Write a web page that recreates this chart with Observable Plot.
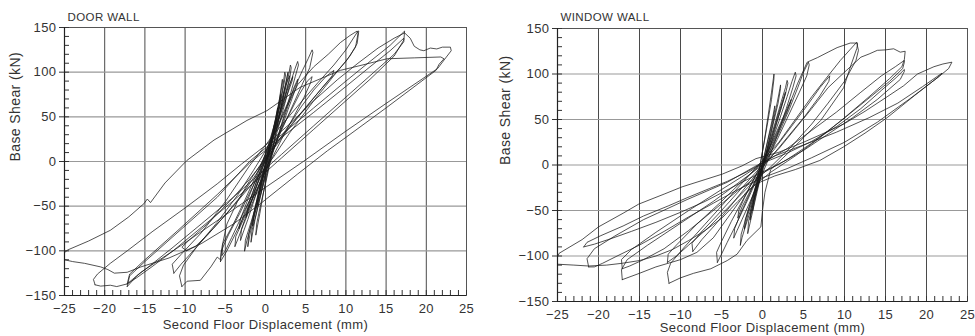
<!DOCTYPE html>
<html><head><meta charset="utf-8">
<script src="https://cdn.jsdelivr.net/npm/d3@7"></script>
<script src="https://cdn.jsdelivr.net/npm/@observablehq/plot@0.6"></script>
<style>
body{margin:0;background:#fff;}
#wrap{display:flex;width:975px;height:336px;overflow:hidden;}
#wrap svg{display:block;flex:none;}
#wrap svg text{letter-spacing:0.4px;}
</style>
</head><body><div id="wrap"></div>
<script>
// ---- axis ticks and labels ----
const xMajor = [-25, -20, -15, -10, -5, 0, 5, 10, 15, 20, 25];
const yMajor = [-150, -100, -50, 0, 50, 100, 150];
const xMinor = d3.range(-25, 26, 1);
const yMinor = d3.range(-150, 151, 10);
const xLabel = "Second Floor Displacement (mm)";
const yLabel = "Base Shear (kN)";
const doorTitle = "DOOR WALL";
const windowTitle = "WINDOW WALL";

// ---- DOOR WALL hysteresis loops [displacement mm, base shear kN] ----
const door_C25 = [[-25,-110],[-25,-102],[-24.6,-99],[-22,-89],[-19.3,-77],[-17,-62],[-15.1,-47],[-14.7,-42],[-14.3,-46],[-12.5,-24],[-9.8,1],[-6.4,24],[-2.3,46],[0.2,57],[4.3,83],[9.3,102],[12.5,109],[15.1,115],[18.5,116],[21.8,117],[22.2,115],
  [21.6,109],[21.2,102],[15,60],[10,27],[7.7,12],[4,-14],[-0.6,-47],[-4,-70],[-8,-92],[-12,-108],[-15.5,-118],[-17.2,-124],[-18.8,-125],[-19.6,-121],[-20.5,-118],[-22.5,-114],[-24,-112],[-25,-110]];
const door_C21 = [[-21.2,-138],[-21.4,-132],[-20.9,-126],[-19.3,-114],[-17.2,-100],[-14,-78],[-10,-52],[-6,-25],[-3,-3],[0,18],[3,42],[6,68],[9,92],[11.5,110],[14,127],[16,138],[17.3,144],[18,138],[18.5,129],[19.2,125],[19.7,124],[20.5,127],[21.3,126],[22,128],[23,128],[23.1,124],
  [22.5,117],[21.4,104],[15,65],[10,34],[4.7,0],[0,-29],[-5,-60],[-10,-91],[-13,-109],[-15.5,-124],[-17.2,-137],[-18.5,-140],[-19.3,-138.5],[-20.5,-139.5],[-21.2,-138]];
const door_C17a = [[-17.2,-140],[-16.9,-128],[-15,-112],[-11,-80],[-6,-40],[-2,0],[2,30],[6,60],[10,90],[13,112],[15.5,130],[17.3,146],
  [17.2,134],[16,120],[13,96],[10,72],[6,40],[2,8],[0,-8],[-4,-40],[-8,-70],[-11.5,-96],[-14,-114],[-16,-128],[-17.2,-140]];
const door_C17b = [[-17.2,-137],[-16.9,-126],[-15,-110],[-11,-78],[-6,-37],[-2,-2],[2,27],[6,55],[10,84],[13,106],[15.5,124],[17.2,138],
  [17.2,136],[16,118],[13,92],[10,68],[6,36],[2,4],[0,-12],[-4,-44],[-8,-74],[-11.5,-100],[-14,-117],[-16,-130],[-17.2,-137]];
const door_C11a = [[-11.4,-125],[-11.6,-115],[-10.5,-104],[-8,-80],[-5,-45],[-2,-5],[1,30],[4,62],[6.5,88],[8.5,108],[10,125],[11.5,146],
  [11.6,146],[11.4,132],[10.5,118],[8.5,96],[6,68],[3,32],[1,5],[-1,-18],[-4,-50],[-6.5,-75],[-9,-100],[-10.5,-115],[-11.4,-125]];
const door_C11b = [[-10.4,-140],[-10.7,-128],[-10.2,-116],[-8.5,-95],[-6,-68],[-3.5,-38],[-1.5,-10],[0,12],[1.5,38],[2.7,62],[4,86],[6,106],[7.8,120],[9.3,133],[10.5,141],[11.4,146],
  [11.5,143],[11.2,128],[10,112],[7,82],[4,50],[2,28],[0,5],[-2,-22],[-3.5,-45],[-4.8,-70],[-5.4,-95],[-5.6,-110],[-6,-107],[-6.8,-118],[-8.1,-133],[-9.75,-134],[-10.4,-140]];
const door_C5a = [[-5.4,-105],[-5.3,-92],[-4,-70],[-2.5,-42],[-1,-12],[0.5,18],[2,50],[3.5,80],[4.6,102],[5.3,115],[5.8,125],
  [5.9,122],[5.5,105],[4.5,85],[3,55],[1.5,25],[0,-5],[-1.5,-35],[-3,-62],[-4.2,-85],[-5,-100],[-5.4,-105]];
const door_C5b = [[-5.6,-112],[-5.5,-100],[-4.6,-82],[-3.2,-58],[-1.8,-32],[-0.3,-5],[1.3,25],[2.9,52],[4.2,75],[5.2,90],[5.8,95],
  [5.6,88],[4.8,72],[3.5,50],[2,25],[0.5,-2],[-1,-30],[-2.5,-58],[-3.8,-82],[-4.8,-100],[-5.6,-112]];
const door_C8 = [[-9.8,-100],[-10.4,-96],[-9.5,-88],[-7,-68],[-4.5,-45],[-2,-20],[0.5,8],[2.5,35],[4.5,62],[6,80],[7.5,95],[8.5,102],
  [8.3,96],[7,82],[5,60],[3,38],[1,14],[-1,-12],[-3,-38],[-5,-60],[-7,-80],[-8.7,-95],[-9.8,-100]];
const door_S1 = [[-3.1,-88],[-3.0,-76],[-2.3,-58],[-1.3,-32],[-0.3,-5],[0.7,22],[1.6,50],[2.4,78],[2.9,98],[3.1,108],
  [3.2,105],[3.0,92],[2.4,70],[1.6,45],[0.7,17],[-0.3,-12],[-1.3,-40],[-2.2,-65],[-2.8,-80],[-3.1,-88]];
const door_S2 = [[-2.2,-95],[-2.1,-82],[-1.5,-60],[-0.7,-32],[-0.1,-10],[0.7,20],[1.5,52],[2.1,80],[2.4,100],
  [2.5,97],[2.2,82],[1.7,58],[1,30],[0.2,0],[-0.6,-30],[-1.3,-58],[-1.9,-80],[-2.2,-95]];
const door_S3 = [[-1.6,-72],[-1.5,-60],[-1,-40],[-0.3,-15],[0.4,12],[1.1,40],[1.6,62],[1.9,80],[2.1,92],
  [2.1,88],[1.8,72],[1.3,50],[0.6,22],[-0.1,-5],[-0.8,-32],[-1.3,-52],[-1.6,-72]];
const door_S4 = [[-2.6,-100],[-2.5,-88],[-1.8,-68],[-0.8,-38],[0.2,-8],[1.2,25],[2.2,58],[3,85],[3.6,102],[4,112],
  [4.1,108],[3.7,95],[3,72],[2,42],[1,12],[0,-18],[-1,-48],[-1.8,-72],[-2.3,-88],[-2.6,-100]];
const door_S5 = [[-1,-48],[-0.9,-38],[-0.5,-20],[0.1,2],[0.7,25],[1.2,45],[1.5,60],
  [1.5,56],[1.2,40],[0.6,18],[0,-5],[-0.5,-25],[-0.8,-38],[-1,-48]];
const door_S6 = [[-3.8,-95],[-3.7,-84],[-2.8,-66],[-1.6,-42],[-0.4,-18],[0.8,8],[1.8,35],[2.8,62],[3.5,82],[4,92],
  [4,88],[3.6,78],[2.8,58],[1.8,32],[0.6,4],[-0.6,-24],[-1.8,-50],[-2.8,-72],[-3.4,-86],[-3.8,-95]];
const door_S7 = [[-1.8,-90],[-1.7,-78],[-1.2,-60],[-0.6,-38],[0,-15],[0.6,10],[1.2,38],[1.6,60],[1.9,75],
  [1.9,72],[1.5,55],[1,32],[0.4,5],[-0.2,-20],[-0.8,-45],[-1.3,-65],[-1.8,-90]];
const door_S8 = [[-3.3,-75],[-3.1,-64],[-2.3,-45],[-1.3,-22],[-0.3,2],[0.8,28],[1.8,55],[2.7,80],[3.4,95],
  [3.3,90],[2.6,72],[1.6,46],[0.5,18],[-0.6,-10],[-1.6,-35],[-2.5,-55],[-3.3,-75]];
const door_S9 = [[-1.2,-82],[-1.1,-70],[-0.6,-48],[0,-25],[0.6,0],[1.2,28],[1.8,55],[2.3,78],[2.8,100],
  [2.7,95],[2.2,72],[1.6,46],[1,20],[0.4,-5],[-0.2,-32],[-0.7,-58],[-1.2,-82]];
const door_S10 = [[-2.4,-62],[-2.2,-52],[-1.6,-35],[-0.8,-14],[0,8],[0.9,35],[1.8,62],[2.5,85],[3,96],
  [2.9,90],[2.3,70],[1.5,45],[0.6,18],[-0.3,-6],[-1.1,-28],[-1.8,-46],[-2.4,-62]];

// ---- WINDOW WALL hysteresis loops ----
const win_W25 = [[-25,-110],[-25,-101],[-24.8,-97],[-22,-82],[-20,-68],[-17,-53],[-15.1,-43],[-12,-32],[-9.8,-24],[-7,-16],[-4.9,-10],[-2.5,-1],[-0.8,7],[2,14],[5,25],[7.5,35],[9.9,45],[12.5,59],[15.2,75],[17.2,87],[18.9,100],[20.9,108],[22,111],[23.1,113],
  [22.7,106],[21.9,100],[18.5,76],[15.2,52],[12.5,35],[9.9,20],[7,5],[4,-5],[1.5,-12],[-0.85,-21],[-3,-40],[-4.9,-58],[-7,-72],[-9,-83],[-11,-93],[-13,-100],[-15,-105],[-17.1,-108],[-19,-110],[-21.2,-111],[-23,-110],[-25,-109],[-25,-110]];
const win_W21a = [[-21.2,-112],[-21.4,-103],[-20.5,-92],[-18,-78],[-14.5,-60],[-9.2,-38],[-4.3,-19],[-1,-2],[1.5,10],[5,22],[9,36],[13,52],[16.5,68],[19.5,86],[21.9,101],
  [21.5,97],[18,73],[14,47],[10,25],[6,8],[3,-4],[0,-14],[-3,-27],[-6,-42],[-9,-57],[-12,-73],[-15,-88],[-17.5,-99],[-19.5,-108],[-20.5,-112],[-21.2,-112]];
const win_W21b = [[-21.8,-90],[-21.4,-85],[-19.8,-78],[-17,-67],[-14.5,-56],[-11.5,-45],[-9.2,-36],[-6.5,-26],[-4.3,-18],[-2,-8],[0,2],[3,13],[6,26],[9,42],[12,62],[14.5,82],[16.3,96],[17.3,105],
  [17.3,103],[16.8,94],[14,72],[11,52],[8,34],[5,16],[2,1],[-1,-12],[-4,-26],[-7,-40],[-10,-52],[-13,-63],[-16,-73],[-18.5,-81],[-20.5,-87],[-21.8,-90]];
const win_W17a = [[-17.1,-126],[-17.2,-115],[-16.5,-104],[-14,-88],[-10,-64],[-6,-40],[-3,-20],[0,0],[2,18],[4,40],[6,62],[8,85],[10,102],[12,118.5],[13,122],[14,126],[15,126.5],[16,127.7],[16.8,124],[17.4,125],
  [17.3,116],[17,108],[15.5,95],[13,75],[10,52],[7,30],[4,10],[1,-8],[-2,-30],[-4,-55],[-6,-80],[-8,-96],[-10,-104],[-13,-112],[-15,-119],[-17.1,-126]];
const win_W17b = [[-17.1,-114],[-17.2,-104],[-16,-93],[-13,-74],[-9,-50],[-5,-27],[-2,-10],[0,2],[3,18],[6,38],[9,58],[12,80],[14.5,98],[16.2,108],[17.3,115],
  [17.3,113],[17.1,106],[15.5,92],[12.5,70],[9.5,48],[6,24],[3,6],[0,-9],[-3,-28],[-6,-50],[-9,-72],[-12,-92],[-14.5,-104],[-16.2,-111],[-17.1,-114]];
const win_W11a = [[-11.4,-130],[-11.6,-118],[-11.2,-108],[-9.5,-90],[-7,-65],[-4.5,-40],[-2,-15],[0,5],[2,25],[4,50],[6,75],[8,98],[9.5,115],[10.7,127],[11.5,135],
  [11.6,133],[11.5,128],[10.8,110],[9.9,85],[7.1,49],[5,30],[3,12],[1,-5],[0.3,-30],[0,-50],[-0.2,-68],[-1.9,-83],[-3.1,-98],[-4.3,-105],[-6.3,-114],[-8.4,-119],[-10,-124],[-11.4,-130]];
const win_W11b = [[-11.6,-107],[-11.5,-98],[-10.5,-88],[-8,-65],[-5,-40],[-2.5,-18],[0,2],[1.5,30],[3,60],[4.3,90],[5.45,113],[6.7,118],[8,124],[9.1,129],[10.7,134],[11.5,134],
  [11.7,126],[11.4,115],[10,92],[8,68],[6,45],[3.5,20],[1,-2],[-1.5,-22],[-4,-45],[-6.5,-68],[-9,-88],[-10.5,-100],[-11.6,-107]];
const win_W5 = [[-5.5,-107],[-5.6,-96],[-5,-84],[-3.8,-62],[-2.5,-40],[-1,-15],[0.5,8],[2,35],[3.3,62],[4.3,85],[5,102],[5.6,113],
  [5.7,110],[5.4,98],[4.5,80],[3.2,55],[1.8,28],[0.5,5],[-0.8,-18],[-2,-42],[-3.2,-65],[-4.3,-85],[-5,-98],[-5.5,-107]];
const win_W8 = [[-8.5,-95],[-8.6,-86],[-7.5,-74],[-5.5,-55],[-3,-30],[-0.5,-5],[1.5,18],[3.5,42],[5.5,66],[7,85],[8.2,98],
  [8.1,92],[7,76],[5.2,54],[3,30],[0.8,6],[-1.5,-18],[-3.8,-44],[-5.8,-66],[-7.4,-82],[-8.5,-95]];
const win_S1 = [[-2.7,-88],[-2.6,-76],[-2,-58],[-1.2,-35],[-0.3,-10],[0.6,18],[1.5,45],[2.3,70],[2.8,85],[3,93],
  [3.1,90],[2.8,78],[2.1,58],[1.3,32],[0.4,5],[-0.5,-22],[-1.4,-48],[-2.1,-68],[-2.5,-80],[-2.7,-88]];
const win_S2 = [[-1.8,-75],[-1.7,-62],[-1.2,-45],[-0.5,-20],[0.3,8],[1,35],[1.6,60],[2,78],[2.2,88],
  [2.2,84],[1.9,68],[1.3,45],[0.6,18],[-0.1,-8],[-0.8,-35],[-1.3,-55],[-1.8,-75]];
const win_S3 = [[-1.2,-50],[-1.1,-40],[-0.7,-24],[-0.1,-2],[0.5,22],[1,42],[1.3,55],[1.5,65],
  [1.5,61],[1.2,47],[0.7,28],[0.1,5],[-0.4,-15],[-0.8,-32],[-1.2,-50]];
const win_S4 = [[-3.5,-80],[-3.4,-70],[-2.6,-52],[-1.5,-30],[-0.3,-6],[0.9,20],[2,48],[3,75],[3.6,92],[4,102],
  [4.1,98],[3.7,85],[2.9,62],[1.9,35],[0.8,8],[-0.4,-18],[-1.5,-40],[-2.5,-60],[-3.1,-72],[-3.5,-80]];
const win_S5 = [[-1.5,-60],[-1.4,-48],[-1,-30],[-0.4,-5],[0.2,25],[0.7,55],[1.1,80],[1.4,100],
  [1.4,95],[1.1,72],[0.6,45],[0,15],[-0.5,-12],[-1,-35],[-1.5,-60]];
const win_S6 = [[-2.2,-70],[-2.1,-60],[-1.5,-42],[-0.7,-20],[0.2,5],[1.1,30],[1.9,55],[2.5,72],[2.8,80],
  [2.7,76],[2.2,60],[1.4,38],[0.5,12],[-0.4,-14],[-1.2,-38],[-1.8,-55],[-2.2,-70]];
const win_S7 = [[-3,-58],[-2.9,-50],[-2.2,-36],[-1.2,-18],[0,4],[1.2,26],[2.2,46],[3,62],[3.5,72],
  [3.4,68],[2.8,54],[1.8,34],[0.6,10],[-0.6,-12],[-1.7,-32],[-2.5,-46],[-3,-58]];

const doorSeries = [door_C25, door_C21, door_C17a, door_C17b, door_C11a, door_C11b, door_C5a, door_C5b, door_C8,
  door_S1, door_S2, door_S3, door_S4, door_S5, door_S6, door_S7, door_S8, door_S9, door_S10];
const windowSeries = [win_W25, win_W21a, win_W21b, win_W17a, win_W17b, win_W11a, win_W11b, win_W5, win_W8,
  win_S1, win_S2, win_S3, win_S4, win_S5, win_S6, win_S7];

function panel(series, title, o) {
  const rows = series.flatMap((pts, i) => pts.map(([x, y]) => ({x, y, loop: i})));
  const fw = o.width - o.ml - o.mr;
  const fh = 336 - o.mt - o.mb;
  return Plot.plot({
    width: o.width, height: 336,
    marginLeft: o.ml, marginRight: o.mr, marginTop: o.mt, marginBottom: o.mb,
    style: {fontFamily: "'Liberation Sans', Arial, sans-serif", fontSize: "13px", color: "#333", background: "#fff", overflow: "visible"},
    x: {domain: [-25, 25], label: null},
    y: {domain: [-150, 150], label: null},
    marks: [
      Plot.gridX(xMajor, {stroke: "#4a4a4a", strokeOpacity: 1, strokeWidth: 1}),
      Plot.gridY(yMajor, {stroke: "#999", strokeOpacity: 1, strokeWidth: 1.2}),
      Plot.frame({stroke: "#555"}),
      // minor ticks pointing inward from the bottom and left axes
      Plot.tickX(xMinor, {x: d => d, insetTop: fh - 5, stroke: "#333"}),
      Plot.tickY(yMinor, {y: d => d, insetRight: fw - 5, stroke: "#333"}),
      Plot.ruleY([-150], {stroke: "#222", strokeWidth: 1.2}),
      Plot.ruleX([-25], {stroke: "#222", strokeWidth: 1.2}),
      Plot.axisX(xMajor, {tickSize: 0, tickPadding: 8, label: null, fill: "#333"}),
      Plot.axisY(yMajor, {tickSize: 5, tickPadding: 3, label: null, fill: "#333", stroke: "#333"}),
      Plot.line(rows, {x: "x", y: "y", z: "loop", stroke: "#1a1a1a", strokeWidth: 0.75, clip: true}),
      Plot.text([title], {frameAnchor: "top-left", dx: 3, dy: o.titleDy, textAnchor: "start", lineAnchor: "middle", fontSize: 11.5, fill: "#333"}),
      Plot.text([xLabel], {frameAnchor: "bottom", dy: o.xlDy, lineAnchor: "middle", fill: "#333"}),
      Plot.text([yLabel], {frameAnchor: "left", dx: o.ylDx, rotate: -90, lineAnchor: "middle", fontSize: 14, fill: "#333"})
    ]
  });
}

const wrap = document.getElementById("wrap");
wrap.append(panel(doorSeries, doorTitle, {width: 490, ml: 64, mr: 24, mt: 27, mb: 41, titleDy: -10.5, xlDy: 29, ylDx: -49}));
wrap.append(panel(windowSeries, windowTitle, {width: 485, ml: 67, mr: 8, mt: 28, mb: 35, titleDy: -11.5, xlDy: 26.5, ylDx: -52}));
</script>
</body></html>
